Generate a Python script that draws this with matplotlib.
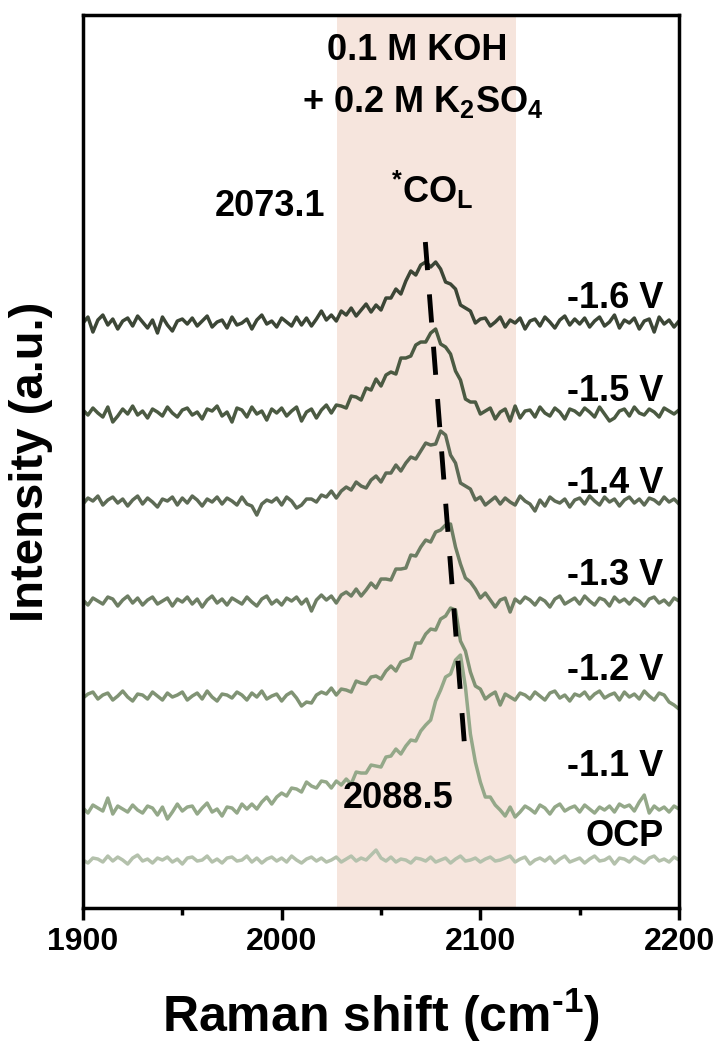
import numpy as np
import matplotlib
matplotlib.use("Agg")
import matplotlib.pyplot as plt

# Raman shift grid (cm-1) shared by all spectra
raman_shift = np.linspace(1900, 2200, 121)

# Intensities (a.u.) of each spectrum before stacking
int_16 = [0, 6, -9, 3, 8, -2, 4, -6, 2, 5,
          -3, 7, 1, -5, 3, -10, 6, -2, -8, 2,
          4, -1, 5, -3, 2, 7, -4, 1, 3, -5,
          6, -2, 0, 4, -6, 3, 8, -1, 2, -4,
          5, 1, -3, 6, -2, 5, -3, 4, 12, 3,
          8, 2, 12, 8, 15, 7, 13, 19, 11, 18,
          13, 25, 25, 34, 29, 42, 52, 48, 58, 61,
          56, 61, 54, 41, 39, 34, 18, 15, 12, 0,
          4, 5, -3, 1, 6, -4, 3, 0, 5, -6,
          2, 4, -3, 6, 1, -5, 3, 7, -2, 4,
          -1, 5, -4, 2, 6, -3, 1, 8, -5, 3,
          0, 5, -6, 2, 4, -9, 6, -1, 3, -4, 2]
int_15 = [3, -2, 5, 0, -4, 6, -9, -3, 4, -1,
          7, -2, 2, -5, 4, 1, -3, 6, 0, -4,
          3, 5, -2, 1, -6, 4, 2, 7, -3, 1,
          -9, 5, 3, -4, 6, -1, 2, -7, 4, 0,
          5, -3, 2, 6, -8, 1, 4, -5, 3, 8,
          0, 8, 7, 5, 17, 16, 13, 25, 23, 34,
          27, 38, 41, 39, 55, 55, 57, 68, 71, 71,
          80, 84, 69, 66, 59, 42, 33, 14, 11, 11,
          -1, 2, 5, -6, 1, 4, -8, 7, -5, 2,
          3, -4, 6, 0, -3, 5, 1, -6, 4, 2,
          -2, 5, 1, -4, 6, -1, -8, -5, 2, 4,
          -3, 6, 0, -2, 4, 1, -4, 5, 2, -1, 3]
int_14 = [-2, 4, 1, 6, -3, 2, 5, -1, 3, -4,
          2, 6, -2, 4, 0, -5, 3, 1, 5, -3,
          4, -1, 6, 2, -4, 3, 0, 5, -2, 4,
          1, -3, 5, -2, -4, -13, -2, 2, 0, 4,
          -3, 5, 1, -6, -3, 3, 3, 0, 7, 5,
          11, 4, 11, 15, 12, 20, 16, 14, 22, 26,
          20, 29, 29, 37, 31, 39, 45, 43, 51, 59,
          57, 58, 71, 67, 47, 39, 19, 16, 13, 2,
          5, -3, 1, 5, -2, 4, 0, -3, 6, 1,
          -2, -9, 2, -4, 5, 1, -1, 3, -5, 2,
          4, -2, 6, 1, -3, 5, 0, 3, -4, 2,
          5, -1, 3, -3, 4, 2, -2, 5, 0, 3, -2]
int_13 = [2, -3, 4, 1, -2, 5, 3, -4, 2, 6,
          -1, 4, -3, 2, 5, -2, 1, 4, -4, 3,
          0, 5, -2, 3, -5, 2, 6, -1, 3, -3,
          4, 1, -2, 5, 0, -4, 3, 6, -2, 2,
          -3, 4, 1, 5, -2, 3, -9, 2, 7, 2,
          6, -1, 7, 10, 6, 13, 6, 12, 19, 14,
          23, 23, 22, 33, 33, 34, 47, 46, 55, 62,
          60, 70, 72, 77, 78, 55, 38, 24, 20, 13,
          4, 9, 2, -5, 2, 4, -10, 3, -1, 5,
          2, -3, 4, 1, -5, 3, 6, -2, 1, 4,
          -2, 6, 1, -3, 4, 2, -4, 5, 0, 3,
          -2, 4, 1, -4, 3, 5, -1, 2, -3, 4, 1]
int_12 = [-1, 3, 5, -2, 2, 4, -3, 1, 6, 0,
          -4, 3, 2, -2, 5, 1, -3, 4, 0, 2,
          5, -3, 1, 4, -2, 6, 0, -4, 3, 2,
          -1, 5, 2, -3, 4, 0, 6, -2, 1, 3,
          -4, 2, 5, -1, -9, -5, -6, 2, 5, 3,
          9, 2, 8, 7, 5, 16, 14, 13, 20, 21,
          18, 26, 31, 26, 35, 37, 39, 54, 54, 63,
          68, 67, 78, 81, 89, 87, 56, 46, 25, 11,
          8, -2, 2, 5, -8, 3, 0, -3, 4, 2,
          -2, 5, 1, -3, 4, 6, -1, 2, -4, 3,
          1, 5, -2, 3, 6, -1, 2, 4, -3, 5,
          0, 3, -2, 6, 1, -3, 4, 2, -5, -8, -12]
int_11 = [2, -3, 5, 2, -1, 12, -4, 4, 1, -2,
          5, 0, -3, 4, 2, -5, 3, -9, -2, 6,
          -1, 3, 4, -4, 2, 7, -2, 1, -6, 3,
          2, -3, 6, 1, 6, 1, 8, 13, 6, 13,
          17, 14, 22, 21, 18, 28, 24, 22, 29, 28,
          22, 29, 25, 31, 26, 38, 37, 37, 45, 44,
          43, 53, 54, 61, 56, 64, 70, 69, 79, 85,
          90, 109, 120, 133, 136, 150, 155, 123, 76, 48,
          28, 13, 13, 5, 0, -6, 3, -7, -2, 4,
          1, -3, 5, 2, -4, 3, 6, -1, 2, 4,
          -2, 5, 1, -3, 3, 0, 4, -2, 6, 3,
          5, -1, 8, 15, -3, 4, 0, 3, -2, 4, 1]
int_ocp = [0, -3, 2, 1, -2, 4, -1, 3, 0, -4,
           2, 5, -1, 1, -3, 2, 0, 3, -2, 1,
           -4, 2, 3, -1, 0, 4, -2, 1, -3, 2,
           3, -1, 0, 4, -2, 2, -3, 1, 3, -1,
           2, -2, 4, 0, -3, 1, 3, -1, 2, -2,
           0, 3, -2, 1, 4, -1, 2, 0, 5, 10,
           2, -1, 3, -2, 1, 0, -3, 2, 1, -1,
           3, -2, 0, 2, -3, 1, 4, -1, 0, 2,
           -2, 1, 3, -1, 0, 2, 4, -2, 1, 3,
           -4, 0, 2, -1, 3, -3, 1, 4, -2, 0,
           2, -3, 1, 4, -1, 0, 3, -4, 2, 1,
           -2, 3, 0, -3, 2, 4, -1, 1, -2, 3, 0]

potentials = ["-1.6 V", "-1.5 V", "-1.4 V", "-1.3 V", "-1.2 V", "-1.1 V", "OCP"]
spectra = [int_16, int_15, int_14, int_13, int_12, int_11, int_ocp]
offsets = [585, 495, 406, 306, 211, 98, 48]
label_y = [610, 517, 425, 333, 238, 142, 72]
colors = ["#3c4636", "#4b5a42", "#5d6a55", "#6e7e64",
          "#809374", "#94a889", "#b4c1ac"]

# *CO_L peak positions at -1.6 V and -1.1 V
peak_shift = [2073.1, 2088.5]
co_band = (2028, 2118)


def main():
    plt.rcParams["font.family"] = ["Liberation Sans", "DejaVu Sans"]
    plt.rcParams["font.weight"] = "bold"
    plt.rcParams["mathtext.fontset"] = "custom"
    plt.rcParams["mathtext.rm"] = "Liberation Sans:bold"
    plt.rcParams["mathtext.it"] = "Liberation Sans:bold"
    plt.rcParams["mathtext.bf"] = "Liberation Sans:bold"
    plt.rcParams["mathtext.default"] = "rm"

    fig = plt.figure(figsize=(7.19, 10.43), dpi=100)
    ax = fig.add_axes([0.1154, 0.1294, 0.829, 0.8562])

    ax.axvspan(*co_band, color="#f6e5dd", lw=0, zorder=0)

    for y, off, col in zip(spectra, offsets, colors):
        ax.plot(raman_shift, np.array(y) + off, color=col, lw=2.5, zorder=2)

    for name, ly in zip(potentials, label_y):
        ax.text(2192, ly, name, ha="right", va="center", fontsize=26,
                fontweight="bold")

    # dashed guide through the peak maxima, extended a little both ways
    y_pk = [offsets[0] + max(int_16), offsets[5] + max(int_11)]
    fit = np.polyfit(y_pk, peak_shift, 1)
    y_line = np.array([y_pk[0] + 20, y_pk[1] - 90])
    ax.plot(np.polyval(fit, y_line), y_line, color="black", lw=3.5,
            dashes=(5.8, 5.0), zorder=3)

    ax.text(1994, 702, f"{peak_shift[0]}", ha="center", va="center",
            fontsize=26, fontweight="bold")
    ax.text(2058.5, 110, f"{peak_shift[1]}", ha="center", va="center",
            fontsize=26, fontweight="bold")
    ax.text(2076, 718, r"$^{*}$CO$_{L}$", ha="center", va="center",
            fontsize=26, fontweight="bold")
    ax.text(2068, 858, "0.1 M KOH", ha="center", va="center",
            fontsize=26, fontweight="bold")
    ax.text(2071, 806, r"+ 0.2 M K$_{2}$SO$_{4}$", ha="center",
            va="center", fontsize=26, fontweight="bold")

    ax.set_xlim(1900, 2200)
    ax.set_ylim(0, 893)
    ax.set_xticks([1900, 2000, 2100, 2200])
    ax.set_xticks([1950, 2050, 2150], minor=True)
    ax.set_yticks([])
    ax.tick_params(axis="x", which="major", direction="out", length=8.5,
                   width=2.5, labelsize=23, pad=5)
    ax.tick_params(axis="x", which="minor", direction="out", length=5,
                   width=2.5)
    for lab in ax.get_xticklabels():
        lab.set_fontweight("bold")
    for sp in ax.spines.values():
        sp.set_linewidth(2.5)

    ax.set_xlabel(r"Raman shift (cm$^{\text{-}1}$)", fontsize=36,
                  fontweight="bold", va="baseline")
    ax.xaxis.set_label_coords(0.5, -0.139)
    ax.set_ylabel("Intensity (a.u.)", fontsize=34, fontweight="bold",
                  va="baseline")
    ax.yaxis.set_label_coords(-0.067, 0.5)

    fig.savefig("out.png", dpi=100)
    return 0


if __name__ == "__main__":
    main()
